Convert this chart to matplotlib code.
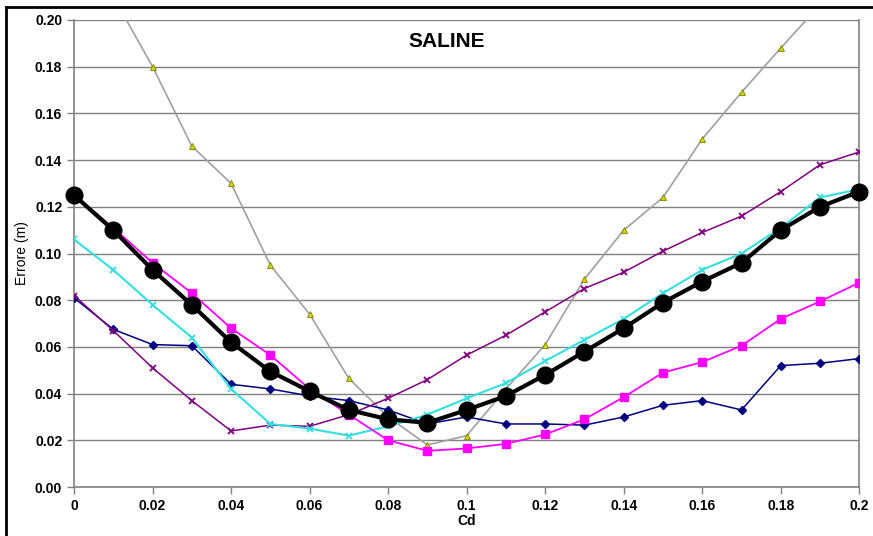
import matplotlib
matplotlib.use('Agg')
import matplotlib.pyplot as plt
import numpy as np
from matplotlib.lines import Line2D

plt.rcParams['font.family'] = ['Liberation Sans', 'DejaVu Sans']

cd = [0, 0.01, 0.02, 0.03, 0.04, 0.05, 0.06, 0.07, 0.08, 0.09, 0.1,
      0.11, 0.12, 0.13, 0.14, 0.15, 0.16, 0.17, 0.18, 0.19, 0.2]

err_black = [0.125, 0.110, 0.093, 0.078, 0.062, 0.0495, 0.041, 0.033, 0.029, 0.0275, 0.033,
             0.039, 0.048, 0.058, 0.068, 0.079, 0.088, 0.096, 0.110, 0.120, 0.1265]
err_magenta = [0.125, 0.111, 0.096, 0.083, 0.068, 0.0565, 0.042, 0.031, 0.020, 0.0155, 0.0165,
               0.0185, 0.0225, 0.029, 0.0385, 0.049, 0.0535, 0.0605, 0.072, 0.0795, 0.0875]
err_cyan = [0.106, 0.093, 0.078, 0.064, 0.042, 0.027, 0.025, 0.022, 0.026, 0.031, 0.038,
            0.0445, 0.054, 0.063, 0.072, 0.083, 0.093, 0.100, 0.111, 0.124, 0.1275]
err_navy = [0.081, 0.0675, 0.061, 0.0605, 0.044, 0.042, 0.039, 0.037, 0.033, 0.027, 0.030,
            0.027, 0.027, 0.0265, 0.030, 0.035, 0.037, 0.033, 0.052, 0.053, 0.055]
err_purple = [0.082, 0.067, 0.051, 0.037, 0.024, 0.0265, 0.026, 0.031, 0.038, 0.046, 0.0565,
              0.065, 0.075, 0.085, 0.092, 0.101, 0.109, 0.116, 0.1265, 0.138, 0.1435]
err_grey = [0.24, 0.21, 0.180, 0.146, 0.130, 0.095, 0.074, 0.0465, 0.030, 0.018, 0.022,
            0.042, 0.061, 0.089, 0.110, 0.124, 0.149, 0.169, 0.188, 0.2065, 0.225]

fig = plt.figure(figsize=(8.73, 5.36), dpi=100)
ax = fig.add_axes([0.0848, 0.0914, 0.8995, 0.8713])

# outer chart frame (left and top edges visible)
fig.add_artist(Line2D([6/873, 6/873], [0, 1 - 7/536], color='black', lw=2, transform=fig.transFigure))
fig.add_artist(Line2D([6/873, 1], [1 - 7/536, 1 - 7/536], color='black', lw=2, transform=fig.transFigure))

ax.plot(cd, err_grey, color='#a0a0a0', lw=1.2, marker='^', ms=5,
        mfc='#d4d400', mec='#808000', mew=0.6, clip_on=True, zorder=3)
ax.plot(cd, err_navy, color='#000080', lw=1.1, marker='D', ms=4,
        mfc='#000080', mec='#000080', zorder=4)
ax.plot(cd, err_purple, color='#800080', lw=1.1, marker='x', ms=5,
        mec='#800080', mew=1.3, zorder=4)
ax.plot(cd, err_cyan, color='#33e0e0', lw=1.5, marker='x', ms=5,
        mec='#33e0e0', mew=1.3, zorder=4)
ax.plot(cd, err_magenta, color='#ff00ff', lw=1.3, marker='s', ms=6,
        mfc='#ff00ff', mec='#ff00ff', zorder=5)
ax.plot(cd, err_black, color='black', lw=3, marker='o', ms=12,
        mfc='black', mec='black', zorder=6, clip_on=False)

ax.set_xlim(0, 0.2)
ax.set_ylim(0, 0.2)
ax.set_xticks(np.arange(0, 0.201, 0.02))
ax.set_xticklabels(['0', '0.02', '0.04', '0.06', '0.08', '0.1', '0.12', '0.14', '0.16', '0.18', '0.2'])
ax.set_yticks(np.arange(0, 0.201, 0.02))
ax.set_yticklabels(['%.2f' % v for v in np.arange(0, 0.201, 0.02)])

ax.grid(axis='y', color='#808080', lw=1)
ax.set_axisbelow(True)
for s in ['left', 'bottom', 'right']:
    ax.spines[s].set_color('#808080')
    ax.spines[s].set_linewidth(1.2)
ax.spines['top'].set_visible(False)
ax.tick_params(axis='both', direction='out', length=5, color='#808080', width=1,
               labelsize=10)
for lab in ax.get_xticklabels() + ax.get_yticklabels():
    lab.set_fontweight('bold')

ax.set_xlabel('Cd', fontsize=10, fontweight='bold', labelpad=1)
ax.set_ylabel('Errore (m)', fontsize=10, labelpad=4)
ax.text(0.474, 0.955, 'SALINE', transform=ax.transAxes, ha='center', va='center',
        fontsize=15, fontweight='bold')

fig.savefig('out.png', dpi=100)
